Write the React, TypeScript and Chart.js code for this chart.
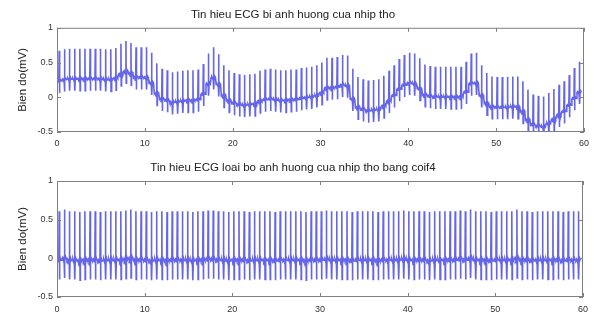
import React, { useEffect, useRef } from "react";
import { Chart, registerables } from "chart.js";

Chart.register(...registerables);

// R-peak times (s)
const beatTimes = [
  0.25, 0.84, 1.42, 2.01, 2.6, 3.18, 3.77, 4.36, 4.94, 5.53, 6.12, 6.7, 7.28, 7.85, 8.42, 9.0, 9.59,
  10.18, 10.77, 11.36, 11.96, 12.55, 13.14, 13.72, 14.31, 14.9, 15.48, 16.07, 16.66, 17.24, 17.82,
  18.4, 18.99, 19.58, 20.17, 20.76, 21.35, 21.94, 22.53, 23.11, 23.7, 24.29, 24.88, 25.46, 26.05,
  26.64, 27.23, 27.82, 28.4, 28.99, 29.57, 30.15, 30.73, 31.31, 31.9, 32.49, 33.08, 33.67, 34.26,
  34.85, 35.44, 36.03, 36.62, 37.21, 37.8, 38.38, 38.96, 39.54, 40.12, 40.71, 41.3, 41.89, 42.48,
  43.07, 43.66, 44.25, 44.84, 45.42, 46.0, 46.58, 47.16, 47.75, 48.34, 48.93, 49.52, 50.11, 50.7,
  51.29, 51.88, 52.46, 53.04, 53.62, 54.21, 54.8, 55.39, 55.98, 56.57, 57.16, 57.74, 58.32, 58.9,
  59.48,
];

// baseline (mV) under each beat, signal with breathing influence
const rawBaseline = [
  0.23, 0.25, 0.26, 0.26, 0.26, 0.26, 0.26, 0.26, 0.26, 0.25, 0.25, 0.27, 0.33, 0.37, 0.34, 0.28, 0.28,
  0.28, 0.2, 0.05, -0.03, -0.05, -0.08, -0.07, -0.06, -0.05, -0.05, -0.04, 0.04, 0.19, 0.28,
  0.18, 0.02, -0.05, -0.09, -0.11, -0.12, -0.11, -0.1, -0.06, -0.04, -0.03, -0.04, -0.05, -0.05,
  -0.04, -0.04, -0.02, -0.01, 0.0, 0.02, 0.06, 0.13, 0.13, 0.14, 0.17, 0.16, -0.03, -0.15,
  -0.18, -0.2, -0.19, -0.18, -0.13, -0.06, 0.02, 0.11, 0.17, 0.2, 0.19, 0.12, 0.03, 0.01,
  0.0, 0.0, 0.0, 0.0, 0.0, 0.0, 0.07, 0.19, 0.2, 0.02, -0.09, -0.14, -0.15, -0.15,
  -0.15, -0.14, -0.14, -0.21, -0.33, -0.4, -0.42, -0.43, -0.38, -0.32, -0.26, -0.21, -0.12, -0.02,
  0.07,
];

// baseline (mV) under each beat, after coif4 filtering
const filteredBaseline = [
  -0.03, -0.01, -0.03, -0.03, -0.04, -0.03, -0.03, -0.03, -0.04, -0.03, -0.03, -0.03, -0.03, -0.02, -0.01, -0.03, -0.03,
  -0.03, -0.04, -0.03, -0.03, -0.04, -0.03, -0.03, -0.03, -0.03, -0.04, -0.03, -0.03, -0.02, -0.02,
  -0.03, -0.03, -0.04, -0.03, -0.03, -0.03, -0.04, -0.03, -0.03, -0.03, -0.03, -0.04, -0.03, -0.03,
  -0.03, -0.03, -0.03, -0.04, -0.03, -0.03, -0.03, -0.02, -0.03, -0.03, -0.03, -0.03, -0.04, -0.03,
  -0.03, -0.03, -0.03, -0.04, -0.03, -0.03, -0.03, -0.03, -0.02, -0.03, -0.03, -0.03, -0.03, -0.04,
  -0.03, -0.03, -0.03, -0.03, -0.03, -0.02, -0.03, -0.01, -0.03, -0.03, -0.03, -0.04, -0.03, -0.03,
  -0.03, -0.03, -0.01, -0.03, -0.03, -0.04, -0.03, -0.03, -0.03, -0.03, -0.03, -0.04, -0.03, -0.03,
  -0.03,
];

// one heartbeat: time offset from R peak (s) and fraction of R amplitude
const beatOffsets = [-0.28, -0.2, -0.12, -0.04, 0, 0.03, 0.07, 0.14, 0.22];
const beatShape = [0.0, 0.03, -0.02, 0.02, 1.0, -0.38, 0.0, 0.05, 0.01];

const rawAmplitude = 0.44;
const filteredAmplitude = 0.64;

const xTicks = [0, 10, 20, 30, 40, 50, 60];
const yTicks = [-0.5, 0, 0.5, 1];

const titles = [
  "Tin hieu ECG bi anh huong cua nhip tho",
  "Tin hieu ECG loai bo anh huong cua nhip tho bang coif4",
];
const yLabel = "Bien do(mV)";

const FONT = "'Liberation Sans', Arial, Helvetica, sans-serif";

function buildSeries(baseline: number[], amp: number) {
  const pts: { x: number; y: number }[] = [];
  beatTimes.forEach((t, i) => {
    beatOffsets.forEach((dt, j) => {
      const x = t + dt;
      if (x < 0 || x > 60) return;
      pts.push({ x, y: baseline[i] + amp * beatShape[j] });
    });
  });
  return pts;
}

const framePlugin = {
  id: "matlabFrame",
  afterDraw(chart: any) {
    const { ctx, chartArea: a, scales } = chart;
    const x = scales.x;
    const y = scales.y;
    ctx.save();
    ctx.strokeStyle = "#808080";
    ctx.lineWidth = 1;
    ctx.strokeRect(a.left + 0.5, a.top + 0.5, a.right - a.left - 1, a.bottom - a.top - 1);
    ctx.beginPath();
    xTicks.forEach((v) => {
      const px = Math.round(x.getPixelForValue(v)) + 0.5;
      ctx.moveTo(px, a.bottom);
      ctx.lineTo(px, a.bottom - 4);
      ctx.moveTo(px, a.top);
      ctx.lineTo(px, a.top + 4);
    });
    yTicks.forEach((v) => {
      const py = Math.round(y.getPixelForValue(v)) + 0.5;
      ctx.moveTo(a.left, py);
      ctx.lineTo(a.left + 4, py);
      ctx.moveTo(a.right, py);
      ctx.lineTo(a.right - 4, py);
    });
    ctx.stroke();
    ctx.restore();
  },
};

function makeConfig(
  data: { x: number; y: number }[],
  title: string,
  titlePad: { top: number; bottom: number },
  xAxisHeight: number,
  xLabelPad: number
): any {
  return {
    type: "line",
    data: {
      datasets: [
        {
          data,
          borderColor: "rgba(35,35,225,0.7)",
          borderWidth: 1.6,
          pointRadius: 0,
          tension: 0,
          fill: false,
        },
      ],
    },
    options: {
      animation: false,
      responsive: false,
      events: [],
      elements: { point: { radius: 0 } },
      layout: { padding: { left: 0, right: 9, top: 0, bottom: 0 } },
      plugins: {
        legend: { display: false },
        tooltip: { enabled: false },
        title: {
          display: true,
          text: title,
          color: "#222",
          font: { family: FONT, size: 11.5, weight: "normal" },
          padding: titlePad,
        },
      },
      scales: {
        x: {
          type: "linear",
          min: 0,
          max: 60,
          grid: { display: false, drawTicks: false, tickLength: 0 },
          border: { display: false },
          ticks: {
            color: "#333",
            font: { family: FONT, size: 9 },
            padding: xLabelPad,
            maxRotation: 0,
            callback: (v: number) => String(v),
          },
          afterBuildTicks: (s: any) => {
            s.ticks = xTicks.map((v) => ({ value: v }));
          },
          afterFit: (s: any) => {
            s.height = xAxisHeight;
          },
        },
        y: {
          type: "linear",
          min: -0.5,
          max: 1,
          grid: { display: false, drawTicks: false, tickLength: 0 },
          border: { display: false },
          ticks: {
            color: "#333",
            font: { family: FONT, size: 9 },
            padding: 4,
            callback: (v: number) => String(v),
          },
          afterBuildTicks: (s: any) => {
            s.ticks = yTicks.map((v) => ({ value: v }));
          },
          afterFit: (s: any) => {
            s.width = 57;
          },
          title: {
            display: true,
            text: yLabel,
            color: "#222",
            font: { family: FONT, size: 11.5 },
            padding: { top: 16, bottom: 0 },
          },
        },
      },
    },
    plugins: [framePlugin],
  };
}

export default function App() {
  const topRef = useRef<HTMLCanvasElement>(null);
  const botRef = useRef<HTMLCanvasElement>(null);

  useEffect(() => {
    document.body.style.margin = "0";
    const c1 = new Chart(
      topRef.current!,
      makeConfig(buildSeries(rawBaseline, rawAmplitude), titles[0], { top: 8, bottom: 6 }, 29, 6)
    );
    const c2 = new Chart(
      botRef.current!,
      makeConfig(buildSeries(filteredBaseline, filteredAmplitude), titles[1], { top: 0, bottom: 6.2 }, 25, 7)
    );
    return () => {
      c1.destroy();
      c2.destroy();
    };
  }, []);

  return (
    <div style={{ position: "absolute", left: 0, top: 0, width: 595, height: 322, background: "#fff" }}>
      <canvas ref={topRef} width={595} height={161} style={{ display: "block" }} />
      <canvas ref={botRef} width={595} height={161} style={{ display: "block" }} />
    </div>
  );
}
